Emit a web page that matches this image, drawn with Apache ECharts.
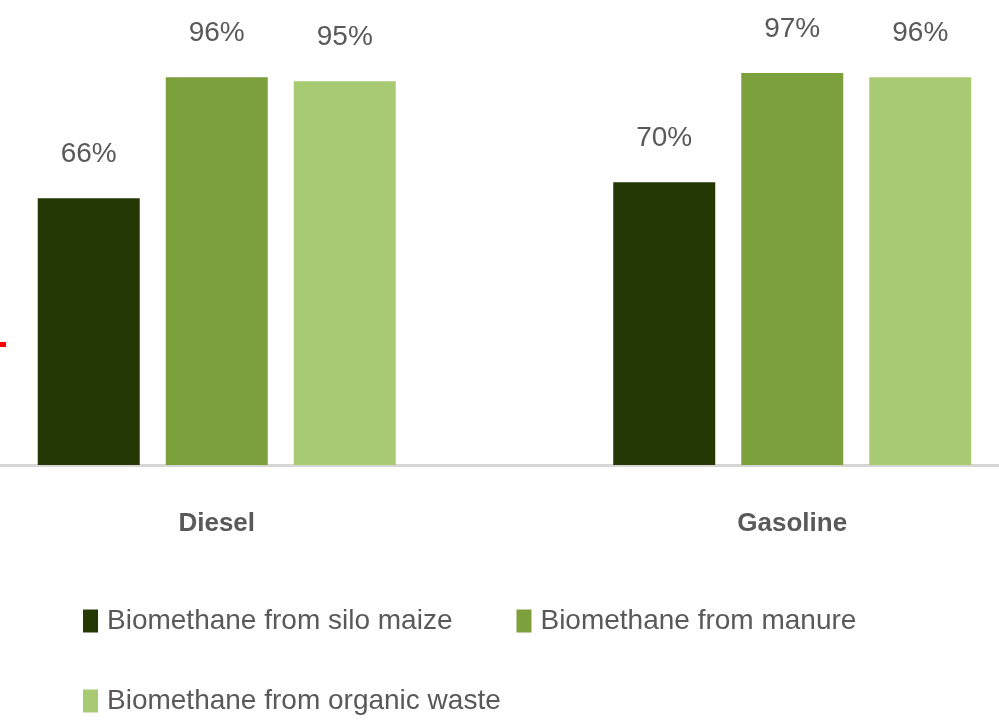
<!DOCTYPE html>
<html>
<head>
<meta charset="utf-8">
<script src="https://cdn.jsdelivr.net/npm/echarts@6/dist/echarts.min.js"></script>
<style>
  html, body { margin: 0; padding: 0; background: #fff; overflow: hidden; }
  /* the plot is cropped on both sides in the original, so the canvas is wider than the page */
  #chart { position: absolute; left: -71px; top: 0; width: 1151px; height: 726px; }
</style>
</head>
<body>
<div id="chart"></div>
<script>
// data
var categories = ['Diesel', 'Gasoline']
var seriesNames = ['Biomethane from silo maize', 'Biomethane from manure', 'Biomethane from organic waste']
var siloMaize = [66, 70]
var manure = [96, 97]
var organicWaste = [95, 96]

var colors = ['#243806', '#7ba03c', '#a8ca72']
var font = '"Liberation Sans", Arial, sans-serif'
var offsetX = 71 // page x = canvas x - offsetX

var chart = echarts.init(document.getElementById('chart'))

function barSeries(name, data, color) {
    return {
        name: name,
        type: 'bar',
        barWidth: 102,
        barGap: '25.5%',
        itemStyle: { color: color },
        label: {
            show: true,
            position: 'top',
            distance: 30,
            formatter: '{c}%',
            color: '#595959',
            fontFamily: font,
            fontSize: 28,
        },
        data: data,
    }
}

var legendText = { color: '#595959', fontFamily: font, fontSize: 28, padding: [0, 0, 0, 4] }

var option = {
    animation: false,
    grid: {
        left: 0,
        right: 0,
        top: 61,
        bottom: 261,
        containLabel: false,
    },
    legend: [
        {
            data: [seriesNames[0], seriesNames[1]],
            left: 83 + offsetX,
            top: 607,
            padding: 0,
            icon: 'rect',
            itemWidth: 15,
            itemHeight: 23,
            itemGap: 64,
            textStyle: legendText,
        },
        {
            data: [seriesNames[2]],
            left: 83 + offsetX,
            top: 687,
            padding: 0,
            icon: 'rect',
            itemWidth: 15,
            itemHeight: 23,
            textStyle: legendText,
        },
    ],
    xAxis: {
        type: 'category',
        data: categories,
        axisLine: { show: true, lineStyle: { color: '#d6d6d6', width: 3 } },
        axisTick: { show: false },
        axisLabel: {
            margin: 46,
            color: '#595959',
            fontFamily: font,
            fontWeight: 'bold',
            fontSize: 26,
        },
    },
    yAxis: {
        type: 'value',
        min: 0,
        max: 100,
        show: false,
        splitLine: { show: false },
    },
    graphic: [
        {
            type: 'rect',
            left: 0 + offsetX,
            top: 342,
            shape: { width: 6, height: 5 },
            style: { fill: '#ff0000' },
        },
    ],
    series: [
        barSeries(seriesNames[0], siloMaize, colors[0]),
        barSeries(seriesNames[1], manure, colors[1]),
        barSeries(seriesNames[2], organicWaste, colors[2]),
    ],
}
chart.setOption(option)
</script>
</body>
</html>
